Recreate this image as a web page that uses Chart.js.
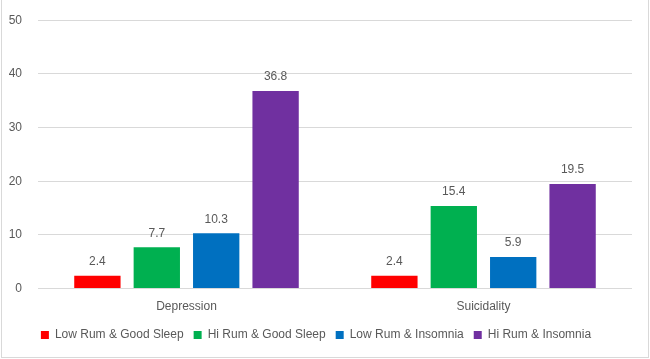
<!DOCTYPE html>
<html><head><meta charset="utf-8">
<script src="https://cdn.jsdelivr.net/npm/chart.js@4"></script>
<style>
html,body{margin:0;padding:0;background:#fff;}
#wrap{position:absolute;left:0;top:0;width:650px;height:359px;}
#frame{position:absolute;left:1px;top:-1px;width:646px;height:357px;border:1px solid #d9d9d9;pointer-events:none;}
</style></head>
<body>
<div id="wrap"><canvas id="c" width="650" height="359"></canvas><div id="frame"></div></div>
<script>
const categories = ["Depression", "Suicidality"];
const seriesNames = ["Low Rum & Good Sleep", "Hi Rum & Good Sleep", "Low Rum & Insomnia", "Hi Rum & Insomnia"];
const lowRumGoodSleep = [2.4, 2.4];
const hiRumGoodSleep = [7.7, 15.4];
const lowRumInsomnia = [10.3, 5.9];
const hiRumInsomnia = [36.8, 19.5];
const yTicks = [0, 10, 20, 30, 40, 50];
const colors = ["#ff0000", "#00b050", "#0070c0", "#7030a0"];

const seriesValues = [lowRumGoodSleep, hiRumGoodSleep, lowRumInsomnia, hiRumInsomnia];
const FONT = "'Liberation Sans', Arial, sans-serif";
const GREY = "#595959";

const valueLabels = {
  id: 'valueLabels',
  afterDatasetsDraw(chart) {
    const ctx = chart.ctx;
    ctx.save();
    ctx.font = "12px " + FONT;
    ctx.fillStyle = GREY;
    ctx.textAlign = 'center';
    ctx.textBaseline = 'middle';
    chart.data.datasets.forEach((ds, i) => {
      chart.getDatasetMeta(i).data.forEach((bar, j) => {
        ctx.fillText(ds.data[j].toFixed(1), bar.x, bar.y - 14);
      });
    });
    ctx.restore();
  }
};

new Chart(document.getElementById('c'), {
  type: 'bar',
  data: {
    labels: categories,
    datasets: seriesValues.map((v, i) => ({
      label: seriesNames[i],
      data: v,
      backgroundColor: colors[i],
      borderWidth: 0,
      categoryPercentage: 0.8,
      barPercentage: 0.78
    }))
  },
  options: {
    responsive: false,
    animation: false,
    devicePixelRatio: 1,
    layout: { padding: { left: 0, right: 18, top: 0, bottom: 8 } },
    plugins: {
      legend: {
        position: 'bottom',
        labels: {
          font: { family: FONT, size: 12 },
          color: GREY,
          boxWidth: 8,
          boxHeight: 8,
          padding: 10
        }
      },
      tooltip: { enabled: false }
    },
    scales: {
      x: {
        grid: { display: false, drawTicks: false },
        border: { display: false },
        afterFit(axis) { axis.height = axis.height - 6; },
        ticks: { font: { family: FONT, size: 12 }, color: GREY, padding: 11 }
      },
      y: {
        min: 0, max: 50,
        afterBuildTicks(axis) { axis.ticks = yTicks.map(v => ({ value: v })); },
        afterFit(axis) { axis.width = 38; axis.paddingTop = Math.max(0, axis.paddingTop - 3); },
        grid: { color: "#d9d9d9", lineWidth: 1, drawTicks: false },
        border: { display: false },
        ticks: { font: { family: FONT, size: 12 }, color: GREY, padding: 16 }
      }
    }
  },
  plugins: [valueLabels]
});
</script>
</body></html>
